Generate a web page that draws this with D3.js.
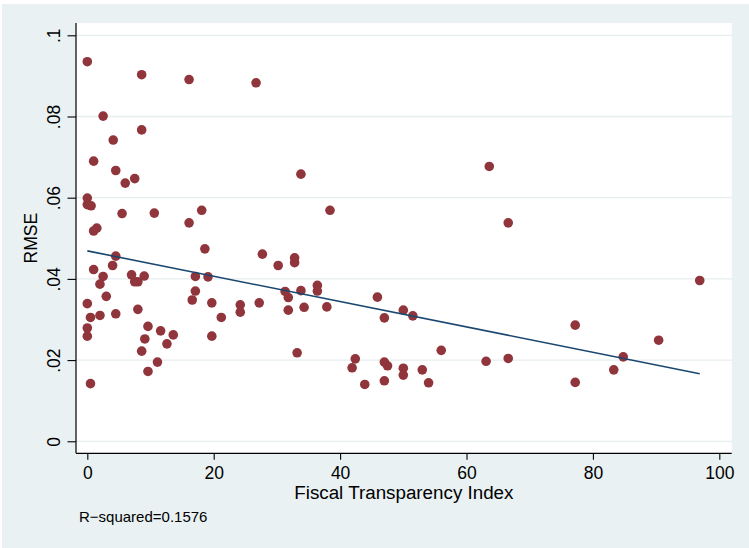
<!DOCTYPE html>
<html>
<head>
<meta charset="utf-8">
<script src="https://cdn.jsdelivr.net/npm/d3@7"></script>
<style>
  html, body { margin: 0; padding: 0; background: #ffffff; }
  svg { display: block; font-family: "Liberation Sans", Arial, Helvetica, sans-serif; }
</style>
</head>
<body>
<svg id="chart" width="749" height="548"></svg>
<script>
// Fiscal Transparency Index for each country
const fti = [
  0.0, 8.6, 16.1, 26.7, 2.5, 8.6, 4.1, 1.0, 4.5, 6.0,
  7.5, 33.8, 63.6, 0.0, 0.0, 0.6, 5.5, 10.6, 16.1, 18.1,
  38.4, 66.6, 1.0, 1.5, 4.5, 4.0, 1.0, 2.5, 2.0, 7.0,
  7.5, 8.0, 9.0, 18.6, 27.7, 30.2, 32.8, 32.8, 17.1, 19.1,
  17.1, 16.6, 19.7, 21.2, 24.2, 24.2, 27.2, 31.3, 31.8, 31.8,
  33.8, 36.4, 36.4, 34.3, 37.9, 45.9, 50.0, 51.5, 47.0, 96.9,
  3.0, 0.0, 0.5, 2.0, 4.5, 8.0, 0.0, 0.0, 9.6, 11.6,
  9.1, 13.6, 12.6, 8.6, 11.1, 9.6, 0.5, 19.7, 33.2, 42.4,
  41.9, 47.0, 47.5, 50.0, 50.0, 43.9, 47.0, 56.0, 63.1, 66.6,
  53.0, 54.0, 77.2, 90.4, 84.8, 83.3, 77.2
];

// Forecast error (RMSE) for each country
const rmse = [
  0.0935, 0.0903, 0.0891, 0.0883, 0.0801, 0.0767, 0.0742, 0.0690, 0.0667, 0.0636,
  0.0647, 0.0658, 0.0677, 0.0599, 0.0583, 0.0580, 0.0561, 0.0562, 0.0538, 0.0569,
  0.0569, 0.0538, 0.0518, 0.0525, 0.0456, 0.0433, 0.0423, 0.0406, 0.0387, 0.0410,
  0.0393, 0.0393, 0.0407, 0.0474, 0.0461, 0.0433, 0.0452, 0.0440, 0.0406, 0.0405,
  0.0370, 0.0348, 0.0341, 0.0305, 0.0336, 0.0318, 0.0341, 0.0369, 0.0354, 0.0323,
  0.0371, 0.0384, 0.0370, 0.0330, 0.0331, 0.0355, 0.0323, 0.0309, 0.0304, 0.0396,
  0.0357, 0.0339, 0.0305, 0.0310, 0.0314, 0.0325, 0.0279, 0.0259, 0.0283, 0.0272,
  0.0252, 0.0262, 0.0240, 0.0222, 0.0195, 0.0172, 0.0142, 0.0259, 0.0218, 0.0203,
  0.0181, 0.0195, 0.0186, 0.0180, 0.0163, 0.0140, 0.0149, 0.0224, 0.0197, 0.0204,
  0.0176, 0.0144, 0.0286, 0.0249, 0.0208, 0.0176, 0.0145
];

// Linear fit, evaluated at the smallest and largest index values
const fitX = [0, 96.9];
const fitY = [0.0469, 0.01665];

const xTicks = [0, 20, 40, 60, 80, 100];
const yTicks = [0, 0.02, 0.04, 0.06, 0.08, 0.1];
const yTickLabels = ["0", ".02", ".04", ".06", ".08", ".1"];

const xTitle = "Fiscal Transparency Index";
const yTitle = "RMSE";
const note = "R\u2212squared=0.1576";

const svg = d3.select("#chart");
const W = 749, H = 548;

// plot region
const plot = { left: 76, right: 731.7, top: 23, bottom: 453.3 };

const x = d3.scaleLinear().domain([-1.79, 101.96]).range([plot.left, plot.right]);
const y = d3.scaleLinear().domain([-0.00296, 0.10303]).range([plot.bottom, plot.top]);

// graph region background
svg.append("rect").attr("x", 0).attr("y", 0).attr("width", W).attr("height", H).attr("fill", "#ffffff");
svg.append("rect").attr("x", 2).attr("y", 4).attr("width", W - 2).attr("height", H - 4).attr("fill", "#e9f1f3");

// plot region background
svg.append("rect")
  .attr("x", plot.left).attr("y", plot.top)
  .attr("width", plot.right - plot.left).attr("height", plot.bottom - plot.top)
  .attr("fill", "#ffffff");

// horizontal grid lines
svg.append("g").selectAll("line").data(yTicks).join("line")
  .attr("x1", plot.left).attr("x2", plot.right)
  .attr("y1", d => y(d)).attr("y2", d => y(d))
  .attr("stroke", "#e6eef0").attr("stroke-width", 1.3);

// y axis
const yAxis = d3.axisLeft(y).tickValues(yTicks)
  .tickFormat((d, i) => yTickLabels[i]).tickSize(8.5).tickPadding(0);
const gy = svg.append("g").attr("transform", `translate(${plot.left},0)`).call(yAxis);
gy.select(".domain").remove();
gy.append("line").attr("x1", 0).attr("x2", 0).attr("y1", plot.top).attr("y2", plot.bottom)
  .attr("stroke", "#000").attr("stroke-width", 1.2);
gy.selectAll(".tick line").attr("stroke", "#000").attr("stroke-width", 1.1);
gy.selectAll(".tick text")
  .attr("fill", "#000")
  .attr("font-size", "17.5px")
  .attr("text-anchor", "middle")
  .attr("dy", null)
  .attr("x", null)
  .attr("transform", "translate(-16,0) rotate(-90)");

// x axis
const xAxis = d3.axisBottom(x).tickValues(xTicks).tickFormat(d3.format("d")).tickSize(6.5).tickPadding(6);
const gx = svg.append("g").attr("transform", `translate(0,${plot.bottom})`).call(xAxis);
gx.select(".domain").remove();
gx.append("line").attr("x1", plot.left).attr("x2", plot.right).attr("y1", 0).attr("y2", 0)
  .attr("stroke", "#000").attr("stroke-width", 1.2);
gx.selectAll(".tick line").attr("stroke", "#000").attr("stroke-width", 1.1);
gx.selectAll(".tick text")
  .attr("fill", "#000")
  .attr("font-size", "17.5px")
  .attr("dy", null)
  .attr("y", 25.4);

// axis titles
svg.append("text")
  .attr("x", (plot.left + plot.right) / 2).attr("y", 499)
  .attr("text-anchor", "middle").attr("font-size", "18.8px").attr("fill", "#000")
  .text(xTitle);

svg.append("text")
  .attr("transform", `translate(37.3,${(plot.top + plot.bottom) / 2}) rotate(-90)`)
  .attr("text-anchor", "middle").attr("font-size", "17.5px").attr("fill", "#000")
  .text(yTitle);

// note
svg.append("text")
  .attr("x", 79).attr("y", 522.3)
  .attr("font-size", "15px").attr("fill", "#000")
  .text(note);

// scatter points
const pts = fti.map((v, i) => ({ fti: v, rmse: rmse[i] }));
svg.append("g").selectAll("circle").data(pts).join("circle")
  .attr("cx", d => x(d.fti)).attr("cy", d => y(d.rmse))
  .attr("r", 4.8)
  .attr("fill", "#90353b");

// fitted line
const line = d3.line().x(d => x(d[0])).y(d => y(d[1]));
svg.append("path")
  .datum(fitX.map((v, i) => [v, fitY[i]]))
  .attr("d", line)
  .attr("fill", "none")
  .attr("stroke", "#1a476f")
  .attr("stroke-width", 1.6);
</script>
</body>
</html>
